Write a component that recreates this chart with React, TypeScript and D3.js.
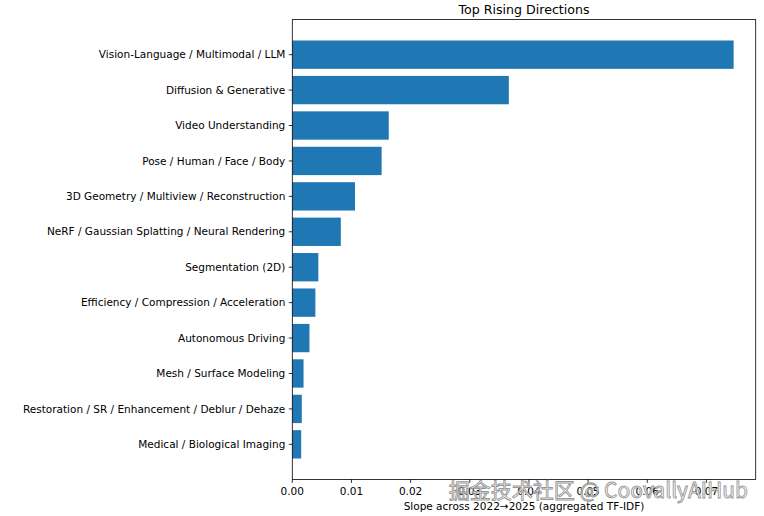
import React from "react";
import * as d3 from "d3";

const categories = [
  "Vision-Language / Multimodal / LLM",
  "Diffusion & Generative",
  "Video Understanding",
  "Pose / Human / Face / Body",
  "3D Geometry / Multiview / Reconstruction",
  "NeRF / Gaussian Splatting / Neural Rendering",
  "Segmentation (2D)",
  "Efficiency / Compression / Acceleration",
  "Autonomous Driving",
  "Mesh / Surface Modeling",
  "Restoration / SR / Enhancement / Deblur / Dehaze",
  "Medical / Biological Imaging",
];
const values = [0.0746, 0.0366, 0.0163, 0.0151, 0.0106, 0.0082, 0.0044, 0.0039, 0.0029, 0.0019, 0.0016, 0.0015];
const xTicks = [0, 0.01, 0.02, 0.03, 0.04, 0.05, 0.06, 0.07];

const W = 764, H = 516;
const left = 292.3, right = 755.7, top = 19.6, bottom = 479.4;
const font = "DejaVu Sans, sans-serif";

export default function App() {
  const maxV = d3.max(values) as number;
  const x = d3.scaleLinear().domain([0, maxV * 1.05]).range([left, right]);
  const n = categories.length;
  const pad = 0.05 * (n - 1 + 0.8);
  const y = d3.scaleLinear().domain([-0.4 - pad, n - 1 + 0.4 + pad]).range([top, bottom]);
  const bh = Math.abs(y(0.8) - y(0));
  return (
    <svg width={W} height={H} style={{ position: "absolute", left: 0, top: 0, background: "#fff" }} fontFamily={font}>
      <rect x={0} y={0} width={W} height={H} fill="#fff" />
      {values.map((v, i) => (
        <rect key={i} x={x(0)} y={y(i) - bh / 2} width={x(v) - x(0)} height={bh} fill="#1f77b4" />
      ))}
      <rect x={left} y={top} width={right - left} height={bottom - top} fill="none" stroke="#000" strokeWidth={0.8} />
      {categories.map((c, i) => (
        <g key={c}>
          <line x1={left - 3.5} x2={left} y1={y(i)} y2={y(i)} stroke="#000" strokeWidth={0.8} />
          <text x={left - 7} y={y(i)} dy="0.35em" textAnchor="end" fontSize={10.5} fill="#000">{c}</text>
        </g>
      ))}
      {xTicks.map((t) => (
        <g key={t}>
          <line x1={x(t)} x2={x(t)} y1={bottom} y2={bottom + 3.5} stroke="#000" strokeWidth={0.8} />
          <text x={x(t)} y={bottom + 16} textAnchor="middle" fontSize={10.5} fill="#000">{t.toFixed(2)}</text>
        </g>
      ))}
      <text x={(left + right) / 2} y={509.5} textAnchor="middle" fontSize={10.5} fill="#000">Slope across 2022→2025 (aggregated TF-IDF)</text>
      <text x={(left + right) / 2} y={14} textAnchor="middle" fontSize={12.6} fill="#000">Top Rising Directions</text>
      <text x={748} y={498} textAnchor="end" fontSize={21} fontFamily="Noto Sans CJK SC, DejaVu Sans, sans-serif" fill="#fff" fillOpacity={0.85} stroke="#8a8a8a" strokeWidth={0.9} strokeOpacity={0.9}>掘金技术社区 @ CoovallyAIHub</text>
    </svg>
  );
}
